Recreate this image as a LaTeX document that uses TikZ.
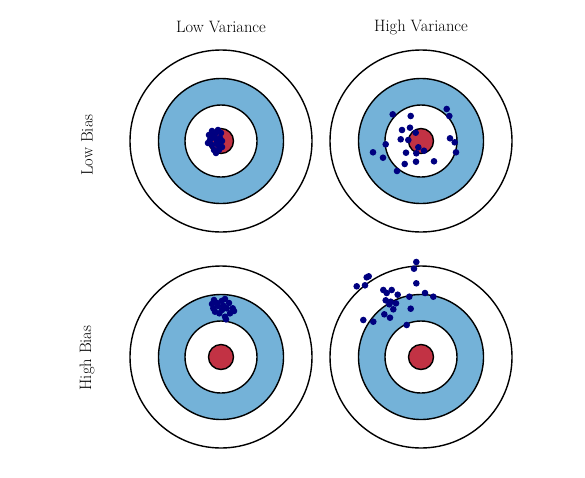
\documentclass[tikz,border=0pt]{standalone}
\usepackage{fontspec}
\definecolor{ringblue}{RGB}{116,178,216}
\definecolor{bullred}{RGB}{194,50,68}
\definecolor{dotblue}{RGB}{0,0,128}
\begin{document}
\begin{tikzpicture}[x=1pt,y=-1pt,
  ring/.style={draw=black,line width=1.4pt},
  dot/.style={fill=dotblue,draw=none},
  lbl/.style={font=\fontsize{16.5}{19}\selectfont,inner sep=0pt}]
\useasboundingbox (0,0) rectangle (585,477);
\newcommand{\target}[3]{%
  \coordinate (#1) at (#2,#3);
  \fill[white,ring] (#1) circle (91);
  \fill[ringblue,ring] (#1) circle (62.5);
  \fill[white,ring] (#1) circle (36);
  \fill[bullred,ring] (#1) circle (12.5);
}
\target{tl}{221}{141}
\target{tr}{421}{141}
\target{bl}{221}{357}
\target{br}{421}{357}
\node[lbl] (lv) at (221,27) {Low Variance};
\node[lbl] (hv) at (421,27) {High Variance};
\node[lbl,rotate=90] (lb) at (87,145) {Low Bias};
\node[lbl,rotate=90] (hb) at (87,358) {High Bias};
% top-left dots
\foreach \x/\y in {212/131,218/130,209/135,215/134,221/133,210/140,216/139,220/138,
  212/145,218/145,222/141,214/150,219/150,216/153,208/143,222/147,213/137,217/142}
  \fill[dot] (\x,\y) circle (3.3);
% top-right dots
\foreach \x/\y in {392.7/114.3,410.7/116,446.7/109,449.3/116,402/130,410/127.7,415.7/132.7,
  400.7/139.3,408.3/140,450/138.3,454.7/142.3,385.7/144.3,418.3/147.3,424/150.7,416.3/153.3,
  406/152.7,456/152.3,373/152.3,383/157.7,416/161.7,434/161.3,404.7/164,397/171}
  \fill[dot] (\x,\y) circle (3.3);
% bottom-left dots
\foreach \x/\y in {214/300,217/303,221.7/301,225/299,213.3/308.3,218/306,223.3/305.7,226.7/308.3,
  232.7/308.3,230/313.3,225/316.7,226/319.3,219.3/313.3,215/311.7,222/310,229/303,234/311,212/304}
  \fill[dot] (\x,\y) circle (3.3);
% bottom-right dots
\foreach \x/\y in {416.3/262,414/268.7,368.7/276.3,366.7/277.3,356.7/286.3,365/285.3,416.3/283.3,
  383.3/290,391.7/290,386.7/293,397.7/294.7,425/293,433.3/296.7,409.3/296.7,385.7/300.3,
  390.7/301.7,396/303.3,389.3/304.3,393.3/309.3,410.7/308.7,384.3/314.3,390/317.7,
  363.3/320,373.3/321.7,406.7/325}
  \fill[dot] (\x,\y) circle (3.3);
\end{tikzpicture}
\end{document}
